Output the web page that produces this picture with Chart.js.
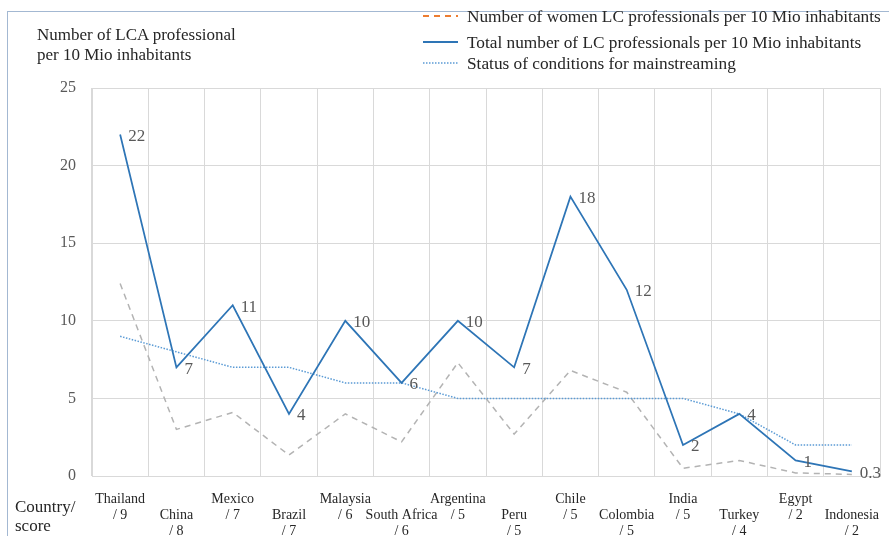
<!DOCTYPE html>
<html>
<head>
<meta charset="utf-8">
<script src="https://cdn.jsdelivr.net/npm/chart.js@4.4.1/dist/chart.umd.min.js"></script>
<style>
  html, body { margin: 0; padding: 0; background: #fff; }
  #wrap { position: relative; width: 889px; height: 536px; overflow: hidden; font-family: 'Liberation Serif', 'Times New Roman', serif; }
  #frame { position: absolute; left: 7px; top: 11px; right: -5px; bottom: -5px; border-top: 1.5px solid #a3b8d2; border-left: 1.5px solid #a3b8d2; }
  canvas { position: absolute; left: 0; top: 0; }
  .txt { position: absolute; color: #262626; font-size: 17px; line-height: 20px; white-space: nowrap; }
  .leg { position: absolute; left: 422px; height: 20px; font-size: 17.3px; color: #262626; white-space: nowrap; }
  .leg svg { position: absolute; left: 0; top: 0; }
  .leg span { position: absolute; left: 45px; top: 0; line-height: 20px; }
</style>
</head>
<body>
<div id="wrap">
  <div id="frame"></div>
  <canvas id="c" width="889" height="536"></canvas>
  <div class="txt" style="left:37px; top:25px;">Number of LCA professional</div>
  <div class="txt" style="left:37px; top:45px;">per 10 Mio inhabitants</div>
  <div class="txt" style="left:15px; top:497px;">Country/</div>
  <div class="txt" style="left:15px; top:516px;">score</div>
  <div class="leg" style="top:7px;"><svg width="40" height="20"><line x1="1" y1="9" x2="36" y2="9" stroke="#ED7D31" stroke-width="2" stroke-dasharray="6,5"/></svg><span>Number of women LC professionals per 10 Mio inhabitants</span></div>
  <div class="leg" style="top:33px;"><svg width="40" height="20"><line x1="1" y1="9" x2="36" y2="9" stroke="#2E75B6" stroke-width="2"/></svg><span>Total number of LC professionals per 10 Mio inhabitants</span></div>
  <div class="leg" style="top:54px;"><svg width="40" height="20"><line x1="1" y1="9" x2="36" y2="9" stroke="#5B9BD5" stroke-width="1.5" stroke-dasharray="1.5,1.5"/></svg><span>Status of conditions for mainstreaming</span></div>
</div>
<script>
// ---- data ----
const countries = ['Thailand', 'China', 'Mexico', 'Brazil', 'Malaysia', 'South Africa', 'Argentina', 'Peru', 'Chile', 'Colombia', 'India', 'Turkey', 'Egypt', 'Indonesia'];
const scores = [9, 8, 7, 7, 6, 6, 5, 5, 5, 5, 5, 4, 2, 2];
const labelRow = [0, 1, 0, 1, 0, 1, 0, 1, 0, 1, 0, 1, 0, 1]; // staggered label rows
const totalPros = [22, 7, 11, 4, 10, 6, 10, 7, 18, 12, 2, 4, 1, 0.3];
const womenPros = [12.4, 3.0, 4.1, 1.35, 4.0, 2.2, 7.3, 2.7, 6.8, 5.4, 0.5, 1.0, 0.2, 0.1];
const statusCond = scores;
const totalLabels = ['22', '7', '11', '4', '10', '6', '10', '7', '18', '12', '2', '4', '1', '0.3'];
const yTicks = [0, 5, 10, 15, 20, 25];

const xLabels = countries.map((c, i) => {
  const lines = [c, '/ ' + scores[i]];
  return labelRow[i] ? [''].concat(lines) : lines;
});

const FONT = "'Liberation Serif', 'Times New Roman', serif";

const dataLabelPlugin = {
  id: 'dataLabels',
  afterDatasetsDraw(chart) {
    const meta = chart.getDatasetMeta(1);
    const ctx = chart.ctx;
    ctx.save();
    ctx.font = '17px ' + FONT;
    ctx.fillStyle = '#595959';
    ctx.textAlign = 'left';
    ctx.textBaseline = 'middle';
    meta.data.forEach((pt, i) => {
      ctx.fillText(totalLabels[i], pt.x + 8, pt.y + 2);
    });
    ctx.restore();
  }
};

new Chart(document.getElementById('c'), {
  type: 'line',
  data: {
    labels: xLabels,
    datasets: [
      {
        label: 'Number of women LC professionals per 10 Mio inhabitants',
        data: womenPros,
        borderColor: '#b3b3b3',
        borderWidth: 1.5,
        borderDash: [6, 5],
        pointRadius: 0,
        tension: 0,
        fill: false,
        order: 2
      },
      {
        label: 'Total number of LC professionals per 10 Mio inhabitants',
        data: totalPros,
        borderColor: '#2E75B6',
        borderWidth: 1.75,
        pointRadius: 0,
        tension: 0,
        fill: false,
        order: 0
      },
      {
        label: 'Status of conditions for mainstreaming',
        data: statusCond,
        borderColor: '#5B9BD5',
        borderWidth: 1.5,
        borderDash: [1.5, 1.5],
        pointRadius: 0,
        tension: 0,
        fill: false,
        order: 1
      }
    ]
  },
  options: {
    responsive: false,
    animation: false,
    events: [],
    layout: { padding: { top: 88, right: 9, left: 0, bottom: 0 } },
    plugins: {
      legend: { display: false },
      tooltip: { enabled: false },
      title: { display: false }
    },
    scales: {
      x: {
        offset: true,
        grid: { offset: true, color: '#d9d9d9', lineWidth: 1, drawTicks: false },
        border: { color: '#d9d9d9' },
        ticks: {
          autoSkip: false,
          maxRotation: 0,
          minRotation: 0,
          padding: 15,
          color: '#262626',
          font: { family: FONT, size: 14, lineHeight: '16px' }
        },
        afterFit(scale) { scale.height = 60; scale.paddingLeft = 0; scale.paddingRight = 0; }
      },
      y: {
        min: 0,
        max: 25,
        afterBuildTicks(scale) { scale.ticks = yTicks.map(v => ({ value: v })); },
        grid: { color: '#d9d9d9', lineWidth: 1, drawTicks: false },
        border: { color: '#d9d9d9' },
        ticks: {
          padding: 16,
          color: '#595959',
          font: { family: FONT, size: 16 }
        },
        afterFit(scale) { scale.width = 92; }
      }
    }
  },
  plugins: [dataLabelPlugin]
});
</script>
</body>
</html>
